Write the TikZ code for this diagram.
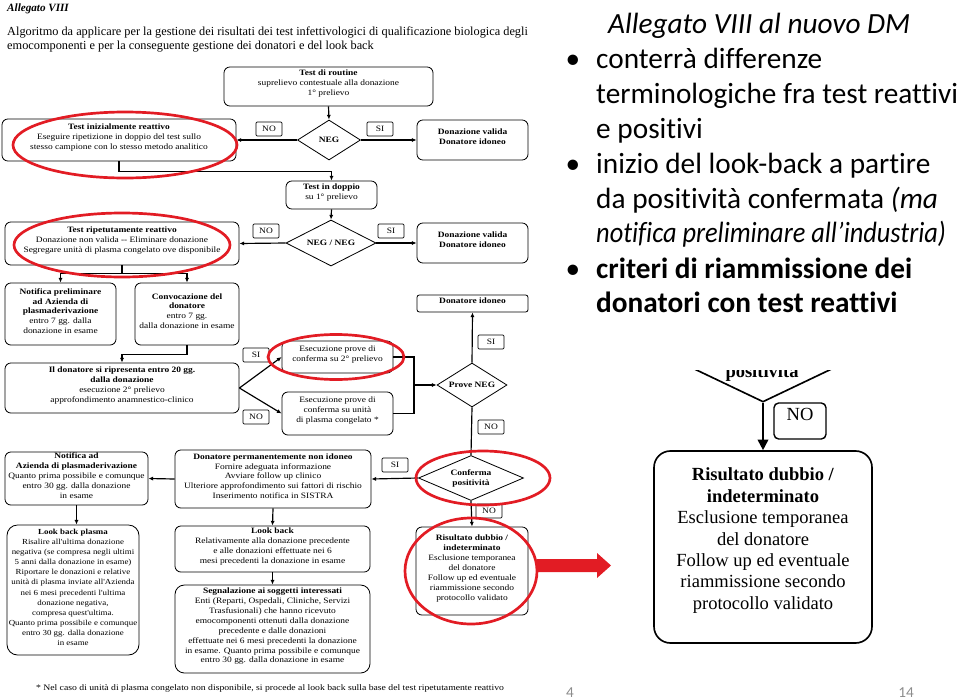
\documentclass[tikz,border=0pt]{standalone}
\usepackage{fontspec}
\setmainfont{Liberation Serif}
\newfontfamily\flowfont[FakeStretch=1.15]{Liberation Serif}
\newfontfamily\slidefont[Ligatures=NoCommon]{Carlito}
\newfontfamily\slidenarrow[FakeStretch=0.9,Ligatures=NoCommon]{Carlito}
\usetikzlibrary{shapes.geometric,arrows.meta,fit,positioning}
\definecolor{ringred}{RGB}{226,28,36}
\definecolor{pagegray}{RGB}{140,140,140}

\begin{document}
\begin{tikzpicture}[x=0.03cm,y=-0.03cm,font=\flowfont\fontsize{7}{8.5}\selectfont,
  box/.style={draw,rounded corners=5pt,line width=0.7pt,inner sep=0pt,align=center,fit={#1}},
  tag/.style={draw,rounded corners=1pt,line width=0.6pt,inner sep=0pt,minimum width=0.78cm,minimum height=0.42cm},
  test/.style={draw,diamond,line width=0.7pt,inner sep=0pt,aspect=2,align=center,font=\flowfont\fontsize{7}{8.5}\selectfont\bfseries},
  flow/.style={line width=1pt,-{Latex[length=4pt,width=3.5pt]}},
  ring/.style={draw=ringred,line width=2.3pt},
  slide/.style={font=\slidefont\fontsize{25}{30}\selectfont,inner sep=0pt,anchor=base west}]

\useasboundingbox (0,0) rectangle (959,699);

% header of the annex
\node[anchor=base west,inner sep=0pt,font=\rmfamily\fontsize{9.5}{11}\selectfont\bfseries\itshape](annex) at (7,12){Allegato VIII};
\node[anchor=north west,inner sep=0pt,align=left,font=\rmfamily\fontsize{10.5}{11.2}\selectfont](algo) at (7,27){Algoritmo da applicare per la gestione dei risultati dei test infettivologici di qualificazione biologica degli\\emocomponenti e per la conseguente gestione dei donatori e del look back};

% first test
\node[box={(224,67) (433,106)}](routine){\textbf{Test di routine}\\suprelievo contestuale alla donazione\\1° prelievo};
\node[test,minimum width=1.89cm,minimum height=1.2cm](neg) at (329,140){NEG};
\node[box={(2,119) (236,161)}](iniz){\textbf{Test inizialmente reattivo}\\Eseguire ripetizione in doppio del test sullo\\stesso campione con lo stesso metodo analitico};
\node[box={(417,120) (528,160)},font=\flowfont\fontsize{7}{8.5}\selectfont\bfseries](valida1){Donazione valida\\Donatore idoneo};
\node[tag](no1) at (269,129){NO};
\node[tag](si1) at (380,129){SI};

\draw[flow] (routine.south) -- (neg.north);
\draw[flow] (neg.west) -- (iniz.east);
\draw[flow] (neg.east) -- (valida1.west);

% repeat test
\node[box={(286,181) (377,209)}](doppio){\textbf{Test in doppio}\\su 1° prelievo};
\node[test,minimum width=2.7cm,minimum height=1.38cm](negneg) at (331,243){NEG / NEG};
\node[box={(5,222) (239,265)}](ripet){\textbf{Test ripetutamente reattivo}\\Donazione non valida -- Eliminare donazione\\Segregare unità di plasma congelato ove disponibile};
\node[box={(417,223) (528,263)},font=\flowfont\fontsize{7}{8.5}\selectfont\bfseries](valida2){Donazione valida\\Donatore idoneo};
\node[tag](no2) at (266,231){NO};
\node[tag](si2) at (391,231){SI};

\draw[flow] (iniz.south) -- ++(0,10) -| (doppio.north);
\draw[flow] (doppio.south) -- (negneg.north);
\draw[flow] (negneg.west) -- (ripet.east);
\draw[flow] (negneg.east) -- (valida2.west);

% notification and call back
\node[box={(5,283) (116,345)}](notif){\textbf{Notifica preliminare}\\\textbf{ad Azienda di}\\\textbf{plasmaderivazione}\\entro 7 gg. dalla\\donazione in esame};
\node[box={(135,283) (239,345)}](convoc){\textbf{Convocazione del}\\\textbf{donatore}\\entro 7 gg.\\dalla donazione in esame};
\node[box={(5,363) (239,413)}](ritorno){\textbf{Il donatore si ripresenta entro 20 gg.}\\\textbf{dalla donazione}\\esecuzione 2° prelievo\\approfondimento anamnestico-clinico};

\draw[line width=1pt] (ripet.south) -- ++(0,8) coordinate (split);
\draw[flow] (split) -| (notif.north);
\draw[flow] (split) -| (convoc.north);
\draw[flow] (convoc.south) -- ++(0,9) -| (ritorno.north);

% confirmation tests
\node[box={(282,341) (393,373)}](esec1){Esecuzione prove di\\conferma su 2° prelievo};
\node[box={(282,392) (393,435)}](esec2){Esecuzione prove di\\conferma su unità\\di plasma congelato *};
\node[tag](si3) at (256,355){SI};
\node[tag](no3) at (256,417){NO};
\node[test,minimum width=2.1cm,minimum height=1.32cm](proveneg) at (472,385){Prove NEG};
\node[box={(417,295) (528,312)},rounded corners=2pt,font=\flowfont\fontsize{7}{8.5}\selectfont\bfseries](idoneo){Donatore idoneo};
\node[tag](si4) at (491,342){SI};
\node[tag](no4) at (491,427){NO};

\draw[flow] (ritorno.east) -- (esec1.west);
\draw[flow] (ritorno.east) -- (esec2.west);
\coordinate (join) at (414,385);
\draw[line width=1pt] (esec1.east) -| (join) (esec2.east) -| (join);
\draw[flow] (join) -- (proveneg.west);
\draw[flow] (proveneg.north) -- (idoneo.south);

% positive result
\node[test,minimum width=3.15cm,minimum height=1.35cm](conferma) at (471,478){Conferma\\positività};
\node[box={(175,450) (371,508)}](perm){\textbf{Donatore permanentemente non idoneo}\\Fornire adeguata informazione\\Avviare follow up clinico\\Ulteriore approfondimento sui fattori di rischio\\Inserimento notifica in SISTRA};
\node[box={(5,452) (148,505)}](notad){\textbf{Notifica ad}\\\textbf{Azienda di plasmaderivazione}\\Quanto prima possibile e comunque\\entro 30 gg. dalla donazione\\in esame};
\node[tag](si5) at (395,465){SI};
\node[tag](no5) at (489,511){NO};
\node[box={(416,527) (528,615)}](risult){\textbf{Risultato dubbio /}\\\textbf{indeterminato}\\Esclusione temporanea\\del donatore\\Follow up ed eventuale\\riammissione secondo\\protocollo validato};

\draw[line width=1pt] (proveneg.south) -- (conferma.north);
\draw[flow] (conferma.west) -- (perm.east);
\draw[flow] (conferma.south) -- (risult.north);
\draw[flow] (perm.west) -- (notad.east);

% look back
\node[box={(7,525) (139,655)},rounded corners=9pt,font=\flowfont\fontsize{6.6}{8.6}\selectfont](lbplasma){\textbf{Look back plasma}\\Risalire all'ultima donazione\\negativa (se compresa negli ultimi\\5 anni dalla donazione in esame)\\Riportare le donazioni e relative\\unità di plasma inviate all'Azienda\\nei 6 mesi precedenti l'ultima\\donazione negativa,\\compresa quest'ultima.\\Quanto prima possibile e comunque\\entro 30 gg. dalla donazione\\in esame};
\node[box={(175,526) (370,572)}](lookback){\textbf{Look back}\\Relativamente alla donazione precedente\\e alle donazioni effettuate nei 6\\mesi precedenti la donazione in esame};
\node[box={(175,585) (370,673)},rounded corners=8pt](segnal){\textbf{Segnalazione ai soggetti interessati}\\Enti (Reparti, Ospedali, Cliniche, Servizi\\Trasfusionali) che hanno ricevuto\\emocomponenti ottenuti dalla donazione\\precedente e dalle donazioni\\effettuate nei 6 mesi precedenti la donazione\\in esame. Quanto prima possibile e comunque\\entro 30 gg. dalla donazione in esame};

\draw[flow,line width=1.6pt] (notad.south) -- (lbplasma.north -| notad.south);
\draw[flow] (perm.south) -- (lookback.north);
\draw[flow] (lookback.south) -- (segnal.north);

\node[font=\flowfont\fontsize{7.2}{8.5}\selectfont](note) at (270,688){* Nel caso di unità di plasma congelato non disponibile, si procede al look back sulla base del test ripetutamente reattivo};

% red marks
\draw[ring] (125,145) ellipse [x radius=112, y radius=33];
\draw[ring] (122,245) ellipse [x radius=108, y radius=32];
\draw[ring] (336,357) ellipse [x radius=68, y radius=22.5];
\draw[ring] (483,478) ellipse [x radius=67, y radius=27];
\draw[ring] (471,571) ellipse [x radius=66, y radius=53];
\fill[ringred] (537,559) -- (597,559) -- (597,553) -- (611,565.5) -- (597,578) -- (597,572) -- (537,572) -- cycle;

% enlarged detail
\begin{scope}
\clip (640,370) rectangle (890,660);
\node[draw,diamond,line width=1.4pt,inner sep=0pt,aspect=2.1,minimum width=5.52cm,minimum height=2.64cm](zconf) at (763,358){};
\node[anchor=base,inner sep=0pt,font=\rmfamily\fontsize{15.8}{18.3}\selectfont\bfseries](zpos) at (762,377){positività};
\end{scope}
\node[draw,rounded corners=14pt,line width=1.4pt,inner sep=0pt,align=center,fit={(654,451) (872,643)},font=\rmfamily\fontsize{15.8}{18.3}\selectfont](zbox){\textbf{Risultato dubbio /}\\\textbf{indeterminato}\\Esclusione temporanea\\del donatore\\Follow up ed eventuale\\riammissione secondo\\protocollo validato};
\node[draw,rounded corners=4pt,line width=1.2pt,inner sep=0pt,fit={(774,403) (826,439)},font=\rmfamily\fontsize{15.8}{18}\selectfont](zno){NO};
\draw[line width=1.5pt,-{Triangle[length=9pt,width=9pt]}] (zconf.south) -- (zbox.north);

% slide text
\node[slide](dmhead) at (608,33){\itshape Allegato VIII al nuovo DM};
\node[slide,anchor=base](dot1) at (573,68){\textbullet};
\node[slide](p1a) at (596,68){conterrà differenze};
\node[slide](p1b) at (596,103){terminologiche fra test reattivi};
\node[slide](p1c) at (596,138){e positivi};
\node[slide,anchor=base](dot2) at (573,173){\textbullet};
\node[slide](p2a) at (596,173){inizio del look-back a partire};
\node[slide](p2b) at (596,208){da positività confermata \textit{(ma}};
\node[slide,font=\slidenarrow\fontsize{25}{30}\selectfont](p2c) at (596,242){\textit{notifica preliminare all’industria)}};
\node[slide,anchor=base](dot3) at (573,278){\textbullet};
\node[slide](p3a) at (596,278){\textbf{criteri di riammissione dei}};
\node[slide](p3b) at (596,312){\textbf{donatori con test reattivi}};

\node[font=\slidefont\fontsize{13}{15}\selectfont,text=pagegray,anchor=base,inner sep=0pt](pgleft) at (570,697){4};
\node[font=\slidefont\fontsize{13}{15}\selectfont,text=pagegray,anchor=base,inner sep=0pt](pgright) at (906,697){14};

\end{tikzpicture}
\end{document}
